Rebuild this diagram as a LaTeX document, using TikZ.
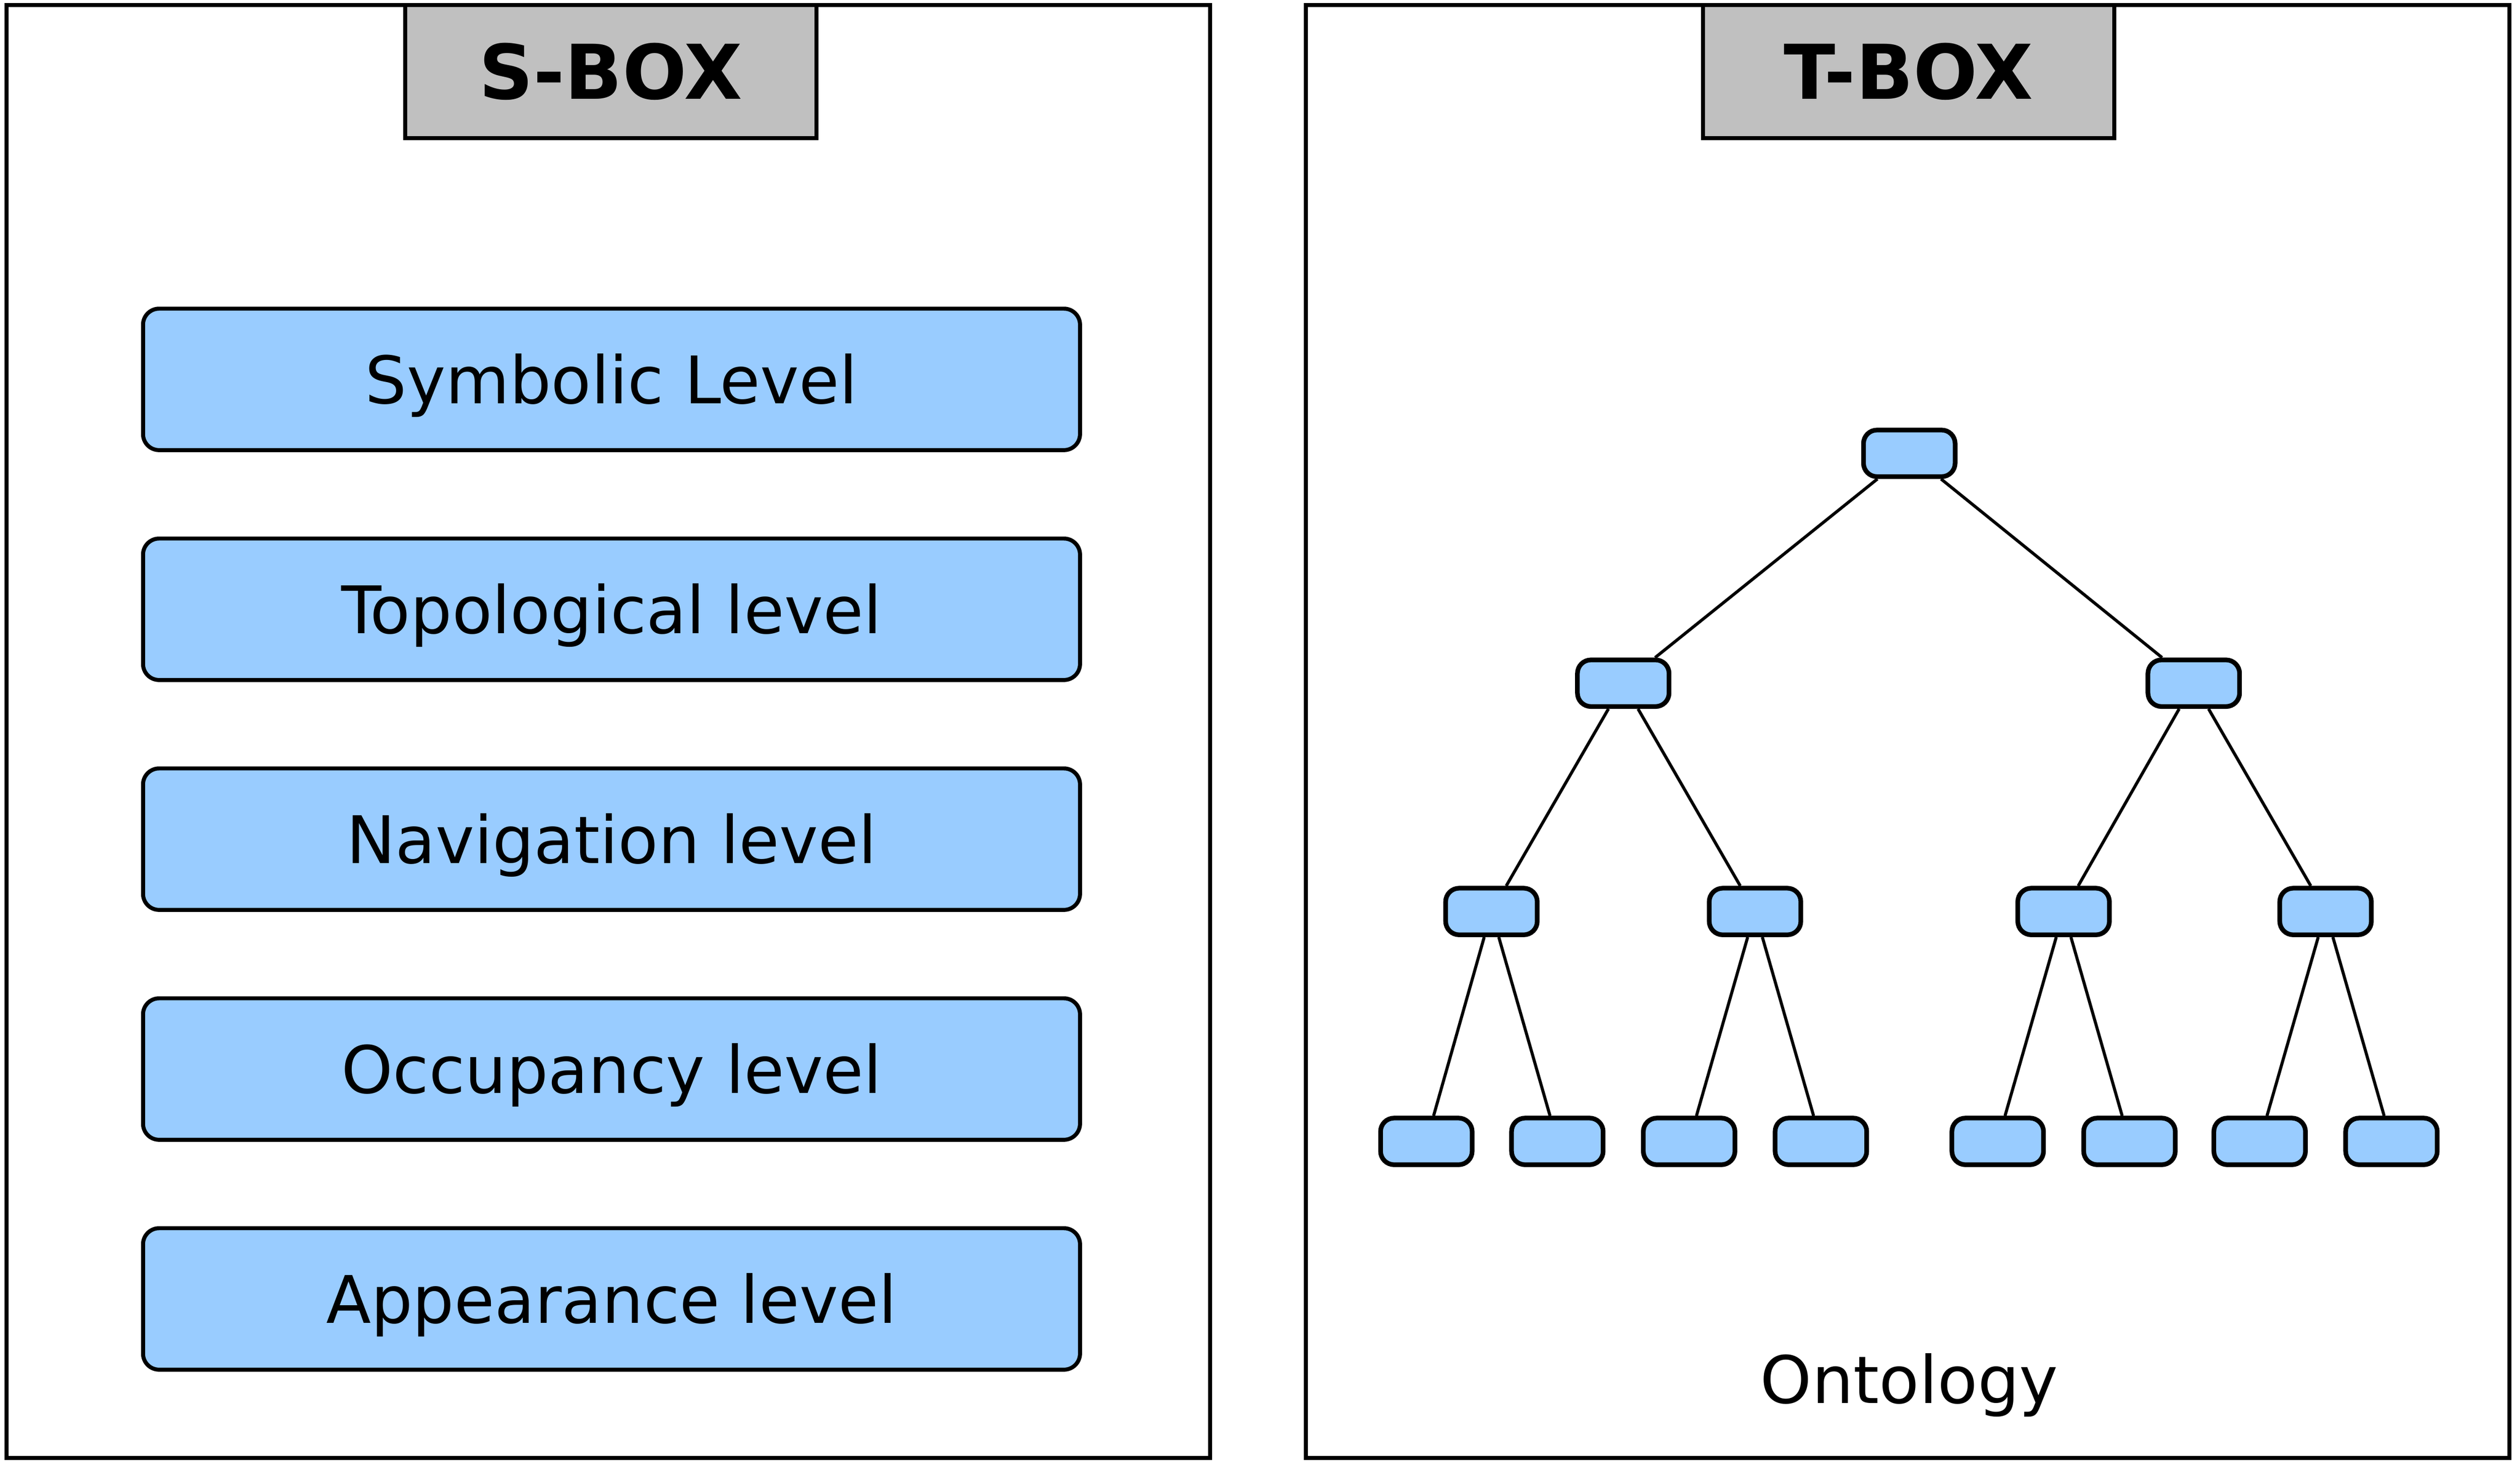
\documentclass[tikz,border=0pt]{standalone}
\usepackage{fontspec}
\setmainfont{DejaVu Sans}
\definecolor{boxblue}{HTML}{99CCFF}
\definecolor{headgray}{HTML}{C0C0C0}
\begin{document}
\begin{tikzpicture}[x=0.5pt,y=-0.5pt,
  frame/.style={draw=black,line width=1.25pt,minimum width=374.5pt,minimum height=452pt,inner sep=0pt},
  header/.style={draw=black,line width=1.25pt,fill=headgray,minimum width=128pt,minimum height=41.5pt,inner sep=0pt,
    font=\fontsize{23.5pt}{28pt}\selectfont\bfseries,text height=17.1pt,text depth=0pt},
  level/.style={draw=black,line width=1.25pt,fill=boxblue,rounded corners=5pt,minimum width=291.5pt,minimum height=44pt,inner sep=0pt,
    font=\fontsize{20.4pt}{25pt}\selectfont,text height=14.9pt,text depth=0pt},
  leaf/.style={draw=black,line width=1.45pt,fill=boxblue,rounded corners=4.2pt,minimum width=28.5pt,minimum height=14.5pt,inner sep=0pt},
  edge/.style={draw=black,line width=0.95pt},
  label/.style={font=\fontsize{20.4pt}{25pt}\selectfont,text height=14.9pt,text depth=0pt,inner sep=0pt}
]
\useasboundingbox (0,0) rectangle (1568,909.3);
% frames
\node[frame] (sframe) at (378.5,455) {};
\node[frame] (tframe) at (1187,455) {};
% headers
\node[header] (shead) at (380,44.5) {S-BOX};
\node[header] (thead) at (1187.5,44.5) {T-BOX};
% S-BOX levels
\node[level] (l1) at (380.5,236) {Symbolic Level};
\node[level] (l2) at (380.5,379) {Topological level};
\node[level] (l3) at (380.5,522) {Navigation level};
\node[level] (l4) at (380.5,665) {Occupancy level};
\node[level] (l5) at (380.5,808) {Appearance level};
% tree
\node[leaf] (r) at (1188,282) {};
\node[leaf] (a) at (1010,425) {};
\node[leaf] (b) at (1365,425) {};
\node[leaf] (aa) at (928,567) {};
\node[leaf] (ab) at (1092,567) {};
\node[leaf] (ba) at (1284,567) {};
\node[leaf] (bb) at (1447,567) {};
\node[leaf] (aaa) at (887.5,710) {};
\node[leaf] (aab) at (969,710) {};
\node[leaf] (aba) at (1051,710) {};
\node[leaf] (abb) at (1133,710) {};
\node[leaf] (baa) at (1243,710) {};
\node[leaf] (bab) at (1325,710) {};
\node[leaf] (bba) at (1406,710) {};
\node[leaf] (bbb) at (1488,710) {};
\draw[edge] (r) -- (a);
\draw[edge] (r) -- (b);
\draw[edge] (a) -- (aa);
\draw[edge] (a) -- (ab);
\draw[edge] (b) -- (ba);
\draw[edge] (b) -- (bb);
\draw[edge] (aa) -- (aaa);
\draw[edge] (aa) -- (aab);
\draw[edge] (ab) -- (aba);
\draw[edge] (ab) -- (abb);
\draw[edge] (ba) -- (baa);
\draw[edge] (ba) -- (bab);
\draw[edge] (bb) -- (bba);
\draw[edge] (bb) -- (bbb);
\node[label] (onto) at (1188,858) {Ontology};
\end{tikzpicture}
\end{document}
